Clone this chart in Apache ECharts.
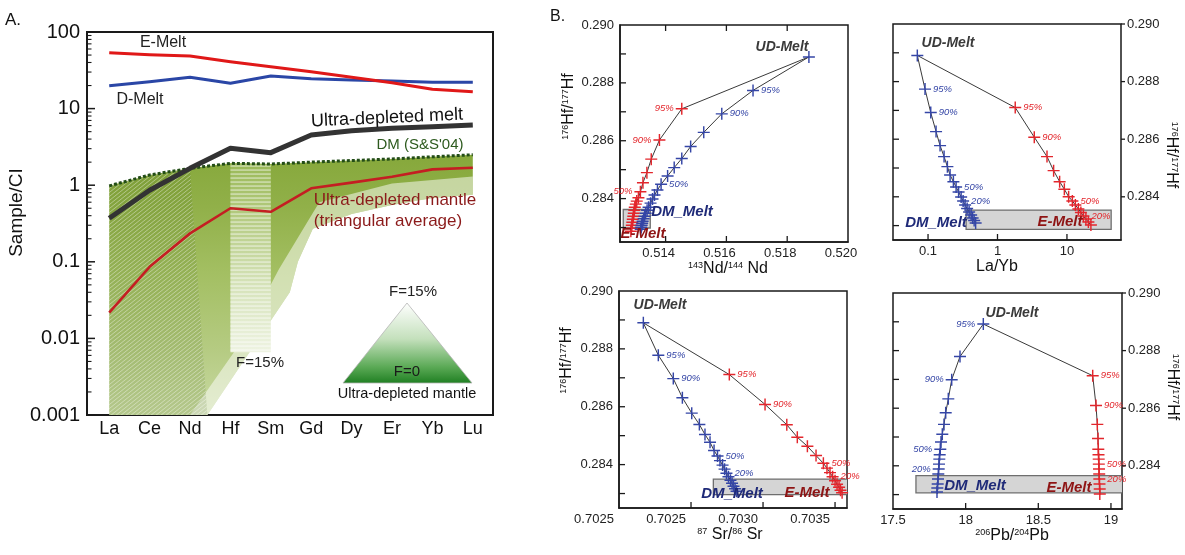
<!DOCTYPE html>
<html><head><meta charset="utf-8">
<script src="https://cdn.jsdelivr.net/npm/echarts@6/dist/echarts.min.js"></script>
<style>html,body{margin:0;padding:0;background:#fff}#c{width:1185px;height:555px}</style>
</head><body><div id="c"></div>
<script>
// ---------------- Panel A data ----------------
const elements = ['La','Ce','Nd','Hf','Sm','Gd','Dy','Er','Yb','Lu'];
const eMeltA   = [53.7, 50.5, 48.6, 40.9, 35.2, 30.3, 25.6, 21.8, 17.9, 16.6];
const dMeltA   = [19.9, 22.4, 25.6, 21.4, 26.7, 24.5, 23.6, 22.9, 22.0, 22.0];
const udMeltA  = [0.37, 0.86, 1.66, 3.03, 2.66, 4.52, 5.15, 5.54, 5.81, 6.1];
const dmA      = [0.98, 1.36, 1.66, 1.93, 1.89, 2.0, 2.1, 2.2, 2.35, 2.5];
const udMantleA= [0.0217, 0.086, 0.235, 0.50, 0.45, 0.91, 1.08, 1.29, 1.61, 1.69];
const fanLowerIdx = [9, 8, 7, 6, 5.04, 4.67, 4.47, 2.43, 0];
const fanLowerVal = [0.75, 0.68, 0.55, 0.42, 0.27, 0.1, 0.04, 0.001, 0.001];
const fanFadeUpperIdx = [9, 7, 5.2, 4.2, 3.2, 2.0];
const fanFadeUpperVal = [1.3, 1.05, 0.6, 0.08, 0.008, 0.001];
const hfSmIdx = [3, 4];
const hfSmBottom = [0.0066, 0.0066];
const yTickValuesA = [0.001, 0.01, 0.1, 1, 10, 100];
const yTickLabelsA = ['0.001','0.01','0.1','1','10','100'];

// ---------------- Panel B data ----------------
const hfTickLabels = ['0.284','0.286','0.288','0.290'];
const hfTickValues = [0.284, 0.286, 0.288, 0.290];
const hfMinorTicks = [0.283, 0.284, 0.285, 0.286, 0.287, 0.288, 0.289];

const ndTickValues = [0.514, 0.516, 0.518, 0.520];
const ndTickLabels = ['0.514','0.516','0.518','0.520'];
const lyTickValues = [0.1, 1, 10];
const lyTickLabels = ['0.1','1','10'];
const srTickValues = [0.7020, 0.7025, 0.7030, 0.7035];
const srTickLabels = ['0.7025','0.7025','0.7030','0.7035'];
const pbTickValues = [17.5, 18, 18.5, 19];
const pbTickLabels = ['17.5','18','18.5','19'];

// Nd vs Hf
const ndBlue = [[0.518714,0.288897],[0.516876,0.287739],[0.515848,0.286929],[0.515255,0.286289],[0.514824,0.285802],[0.514532,0.285384],[0.514283,0.285071],[0.514066,0.284783],[0.513852,0.284494],
 [0.513732,0.284296],[0.513635,0.284122],[0.513570,0.283983],[0.513505,0.283843],[0.513440,0.283704],[0.513391,0.283600],[0.513343,0.283496],[0.513310,0.283391],[0.513278,0.283304],[0.513246,0.283217],[0.513229,0.283148],[0.513213,0.283078],[0.513197,0.283009],[0.513181,0.282939]];
const ndBlueLbl = [[1,'95%'],[2,'90%'],[8,'50%']];
const ndRed = [[0.514532,0.287103],[0.513797,0.286024],[0.513528,0.285364],[0.513385,0.284897],[0.513255,0.284550],[0.513171,0.284237],[0.513106,0.284028],
 [0.513051,0.283913],[0.513019,0.283809],[0.512986,0.283704],[0.512970,0.283600],[0.512954,0.283496],[0.512938,0.283391],[0.512921,0.283287],[0.512905,0.283183],[0.512889,0.283078],[0.512873,0.282974],[0.512857,0.282870]];
const ndRedLbl = [[0,'95%'],[1,'90%'],[5,'50%']];
const ndBox = [0.512607, 0.282984, 0.513495, 0.283624];

// La/Yb vs Hf
const lyBlue = [[0.07008,0.288908],[0.09051,0.287739],[0.10940,0.286925],[0.13043,0.286264],[0.14901,0.285777],[0.17020,0.285395],[0.18992,0.285047],[0.20771,0.284758],[0.23180,0.284525],
 [0.2535,0.284341],[0.2754,0.284167],[0.2995,0.283993],[0.3200,0.283854],[0.3419,0.283715],[0.3653,0.283593],[0.3905,0.283471],[0.4173,0.283367],[0.4386,0.283263],[0.4610,0.283176],[0.4846,0.283089]];
const lyBlueLbl = [[1,'95%'],[2,'90%'],[9,'50%'],[12,'20%']];
const lyRed = [[1.8004,0.287099],[3.385,0.286070],[5.162,0.285395],[6.429,0.284908],[7.848,0.284525],[9.173,0.284261],[10.58,0.284003],
 [11.97,0.283854],[13.22,0.283715],[14.61,0.283576],[15.87,0.283454],[17.25,0.283332],[18.74,0.283228],[20.36,0.283123],[22.13,0.283019]];
const lyRedLbl = [[0,'95%'],[1,'90%'],[7,'50%'],[11,'20%']];
const lyBox = [0.353, 0.28287, 43.3, 0.28354];

// Sr vs Hf
const srBlue = [[0.702169,0.288900],[0.702273,0.287780],[0.702377,0.286972],[0.702440,0.286313],[0.702505,0.285779],[0.702558,0.285387],[0.702597,0.285040],[0.702632,0.284773],[0.702660,0.284485],
 [0.702684,0.284294],[0.702701,0.284138],[0.702719,0.283982],[0.702733,0.283843],[0.702746,0.283704],[0.702760,0.283583],[0.702774,0.283462],[0.702785,0.283358],[0.702795,0.283254],[0.702806,0.283167],[0.702816,0.283080]];
const srBlueLbl = [[1,'95%'],[2,'90%'],[9,'50%'],[13,'20%']];
const srRed = [[0.702766,0.287111],[0.703014,0.286080],[0.703165,0.285376],[0.703238,0.284946],[0.703308,0.284634],[0.703368,0.284312],[0.703419,0.284044],
 [0.703444,0.283878],[0.703465,0.283722],[0.703483,0.283583],[0.703500,0.283444],[0.703514,0.283323],[0.703528,0.283219],[0.703538,0.283115],[0.703549,0.283028]];
const srRedLbl = [[0,'95%'],[1,'90%'],[6,'50%'],[9,'20%']];
const srBox = [0.702655, 0.28296, 0.70359, 0.28350];

// Pb vs Hf
const pbBlue = [[18.1215,0.288921],[17.9611,0.287793],[17.9040,0.286990],[17.8806,0.286324],[17.8627,0.285841],[17.8510,0.285438],[17.8393,0.285093],[17.8304,0.284828],[17.8255,0.284576],
 [17.8214,0.284386],[17.8187,0.284231],[17.8166,0.284059],[17.8145,0.283886],[17.8118,0.283714],[17.8097,0.283541],[17.8076,0.283369],[17.8049,0.283231],[17.8028,0.283093]];
const pbBlueLbl = [[0,'95%'],[2,'90%'],[8,'50%'],[12,'20%']];
const pbRed = [[18.8744,0.287128],[18.8971,0.286093],[18.9061,0.285438],[18.9109,0.284945],[18.9129,0.284576],
 [18.9143,0.284386],[18.9157,0.284231],[18.9164,0.284059],[18.9178,0.283886],[18.9192,0.283714],[18.9199,0.283541],[18.9212,0.283369],[18.9226,0.283197],[18.9233,0.283024]];
const pbRedLbl = [[0,'95%'],[1,'90%'],[7,'50%'],[10,'20%']];
const pbBox = [17.658, 0.28306, 19.08, 0.28366];

// ---------------- styling ----------------
const FF = '"Liberation Sans", Arial, Helvetica, sans-serif';
const CROSS = 'path://M0,4.4H10V5.6H0Z M4.4,0H5.6V10H4.4Z';
const RED = '#e3262c', BLUE = '#3546a6', FRAME = '#1a1a1a';
const G = echarts.graphic;

// decorative hatch textures for the residue fan
function makeHatch(w, h, draw) {
  const c = document.createElement('canvas'); c.width = w; c.height = h;
  const g = c.getContext('2d'); draw(g, w, h); return {image: c, repeat: 'repeat'};
}
const hatchDiag = makeHatch(10, 8, (g, w, h) => {
  g.fillStyle = 'rgba(60,95,10,0.14)'; g.fillRect(0, 0, w, h);
  g.strokeStyle = 'rgba(255,255,255,0.4)'; g.lineWidth = 1;
  g.beginPath();
  [-h, -h / 2, 0, h / 2, h].forEach(c => { g.moveTo(-2, h + c + 2 * h / w); g.lineTo(w + 2, c - 2 * h / w); });
  g.stroke();
});
const hatchHoriz = makeHatch(4, 4, (g, w, h) => {
  g.fillStyle = 'rgba(255,255,255,0.65)'; g.fillRect(0, 1.5, w, 1.1);
});

const chart = echarts.init(document.getElementById('c'), null, {renderer: 'canvas'});

const gridsB = [
  {left: 620, top: 25, width: 228, height: 217},
  {left: 893, top: 24, width: 228, height: 216},
  {left: 619, top: 291, width: 228, height: 217},
  {left: 893, top: 293, width: 229, height: 216}
];
const grid = [{left: 87, top: 32, width: 406, height: 383, show: true, borderColor: FRAME, borderWidth: 2, outerBoundsMode: 'none', containLabel: false}]
  .concat(gridsB.map(g => Object.assign({show: true, borderColor: FRAME, borderWidth: 1.5, outerBoundsMode: 'none', containLabel: false}, g)));

const minorA = [];
for (let d = -3; d < 2; d++) for (let k = 2; k <= 9; k++) minorA.push(+(k * Math.pow(10, d)).toPrecision(3));

const supRich = {s: {fontSize: 9, verticalAlign: 'top', fontFamily: FF, color: '#111', lineHeight: 11}, m: {fontSize: 16, fontFamily: FF, color: '#111'}};
function nameStyle(pad) { return {fontSize: 16, fontFamily: FF, color: '#111', rich: supRich, padding: pad || 0}; }
const noSplit = {show: false};
function lblFmt(vals, labs) { return v => { let best = 0, bd = Infinity; vals.forEach((t, i) => { const d = Math.abs(t - v); if (d < bd) { bd = d; best = i; } }); return labs[best]; }; }

// axis extents [xMin, xMax, yMin, yMax]
const extA  = [-0.55, 9.5, 0.001, 100];
const extNd = [0.5125, 0.5200, 0.2825, 0.290];
const extLy = [0.0313, 60, 0.2825, 0.290];
const extSr = [0.7020, 0.703583, 0.2825, 0.290];
const extPb = [17.5, 19.076, 0.2825, 0.290];

function xAx(gi, type, ext, opts) {
  return Object.assign({gridIndex: gi, type: type, min: ext[0], max: ext[1], position: 'bottom', splitLine: noSplit, minorTick: {show: false},
    axisLine: {show: true, onZero: false, lineStyle: {color: FRAME, width: gi === 0 ? 2 : 1.5}}, axisTick: {show: false}}, opts);
}
const xAxis = [
  xAx(0, 'value', extA, {axisLabel: {customValues: [0,1,2,3,4,5,6,7,8,9], formatter: v => elements[Math.round(v)], fontSize: 18, fontFamily: FF, color: '#111', margin: 5}}),
  xAx(1, 'value', extNd, {axisLabel: {customValues: ndTickValues, formatter: lblFmt(ndTickValues, ndTickLabels), fontSize: 13, fontFamily: FF, color: '#222', margin: 5, padding: [0, 14, 0, 0]},
    name: '{s|143}{m|Nd/}{s|144}{m| Nd}', nameLocation: 'middle', nameGap: 16, nameTextStyle: nameStyle([0, 12, 0, 0])}),
  xAx(2, 'log', extLy, {axisLabel: {customValues: lyTickValues, formatter: lblFmt(lyTickValues, lyTickLabels), fontSize: 13, fontFamily: FF, color: '#222', margin: 5},
    name: '{m|La/Yb}', nameLocation: 'middle', nameGap: 18, nameTextStyle: nameStyle([0, 20, 0, 0])}),
  xAx(3, 'value', extSr, {axisLabel: {customValues: srTickValues, formatter: lblFmt(srTickValues, srTickLabels), fontSize: 13, fontFamily: FF, color: '#222', margin: 5, padding: [0, 50, 0, 0]},
    name: '{s|87}{m| Sr/}{s|86}{m| Sr}', nameLocation: 'middle', nameGap: 17, nameTextStyle: nameStyle([0, 6, 0, 0])}),
  xAx(4, 'value', extPb, {axisLabel: {customValues: pbTickValues, formatter: lblFmt(pbTickValues, pbTickLabels), fontSize: 13, fontFamily: FF, color: '#222', margin: 5},
    name: '{s|206}{m|Pb/}{s|204}{m|Pb}', nameLocation: 'middle', nameGap: 16, nameTextStyle: nameStyle([0, 0, 0, 9])})
];

function hfAxis(gi, pos, nameGap, pad) {
  return {gridIndex: gi, type: 'value', min: 0.2825, max: 0.290, position: pos, splitLine: noSplit,
    axisLine: {show: pos === 'left', onZero: false, lineStyle: {color: FRAME, width: 1.5}}, axisTick: {show: false},
    axisLabel: {customValues: hfTickValues, formatter: lblFmt(hfTickValues, hfTickLabels), fontSize: 13, fontFamily: FF, color: '#222', margin: 6},
    name: '{s|176}{m|Hf/}{s|177}{m|Hf}', nameLocation: 'middle', nameGap: nameGap, nameRotate: pos === 'left' ? 90 : -90,
    nameTextStyle: nameStyle(pad)};
}

const yAxis = [
  {gridIndex: 0, type: 'log', logBase: 10, min: 0.001, max: 100, position: 'left', splitLine: noSplit, minorTick: {show: false},
   axisLine: {show: true, onZero: false, lineStyle: {color: FRAME, width: 2}}, axisTick: {show: false},
   axisLabel: {customValues: yTickValuesA, formatter: v => yTickLabelsA[Math.round(Math.log10(v)) + 3], fontSize: 20, fontFamily: FF, color: '#111', margin: 7},
   name: 'Sample/CI', nameLocation: 'middle', nameGap: 50, nameRotate: 90, nameTextStyle: {fontSize: 19, fontFamily: FF, color: '#111', padding: [0, 0, 0, 22]}},
  hfAxis(1, 'left', 43, [0, 0, 0, 54]),
  hfAxis(2, 'right', 40, [0, 0, 0, 46]),
  hfAxis(3, 'left', 44, [0, 0, 0, 78]),
  hfAxis(4, 'right', 40, [0, 28, 0, 0])
];

// ---------- tick marks (drawn through the axes' own scales) ----------
function tickSeries(xi, yi, ext, specs) {
  return {type: 'custom', xAxisIndex: xi, yAxisIndex: yi, z: 20, silent: true, clip: false,
    data: [[ext[0], ext[2]]],
    renderItem: (p, api) => {
      const children = [];
      specs.forEach(s => s.values.forEach(v => {
        let a, dx = 0, dy = 0;
        if (s.side === 'left')   { a = api.coord([ext[0], v]); dx = s.out ? -s.len : s.len; }
        if (s.side === 'right')  { a = api.coord([ext[1], v]); dx = s.out ? s.len : -s.len; }
        if (s.side === 'bottom') { a = api.coord([v, ext[2]]); dy = s.out ? s.len : -s.len; }
        if (s.side === 'top')    { a = api.coord([v, ext[3]]); dy = s.out ? -s.len : s.len; }
        children.push({type: 'line', shape: {x1: a[0], y1: a[1], x2: a[0] + dx, y2: a[1] + dy},
          style: {stroke: FRAME, lineWidth: s.w || 1.3}});
      }));
      return {type: 'group', children: children};
    }};
}

// ---------- Panel A series ----------
const fanTop = elements.map((e, i) => [i, dmA[i]]);
const fanBottom = fanLowerIdx.map((x, i) => [x, fanLowerVal[i]]);
const fanFade = fanLowerIdx.slice(0, 8).map((x, i) => [x, fanLowerVal[i]]).reverse()
  .concat(fanFadeUpperIdx.map((x, i) => [x, fanFadeUpperVal[i]]));
function polySeries(pointsFn, styleFn, z) {
  return {type: 'custom', xAxisIndex: 0, yAxisIndex: 0, z: z || 1, silent: true, clip: true,
    data: [[1, 1]],
    renderItem: (p, api) => ({type: 'polygon', shape: {points: pointsFn().map(q => api.coord(q))}, style: styleFn()})};
}
const series = [];
series.push(polySeries(() => fanTop.concat(fanBottom), () => ({
  fill: new G.LinearGradient(0, 0, 0, 1, [
    {offset: 0, color: '#86a83b'}, {offset: 0.2, color: '#91b049'}, {offset: 0.45, color: '#a3bf62'},
    {offset: 0.75, color: '#b5cb82'}, {offset: 1, color: '#c9daa3'}]), stroke: null})));
series.push(polySeries(() => fanFade, () => ({fill: 'rgba(255,255,255,0.5)', stroke: null})));
// hatching over La–Nd part of the fan
series.push(polySeries(() => fanTop.slice(0, 3).concat([[2.43, 0.001], [0, 0.001]]), () => ({fill: hatchDiag, stroke: null}), 2));
// Hf–Sm band with horizontal hatching
const bandPts = () => [[hfSmIdx[0], dmA[3]], [hfSmIdx[1], dmA[4]], [hfSmIdx[1], hfSmBottom[1]], [hfSmIdx[0], hfSmBottom[0]]];
series.push(polySeries(bandPts, () => ({
  fill: new G.LinearGradient(0, 0, 0, 1, [
    {offset: 0, color: '#9ab957'}, {offset: 0.3, color: '#b6cc84'}, {offset: 0.65, color: '#d6e3ba'}, {offset: 1, color: '#eef3e2'}]), stroke: null})));
series.push(polySeries(bandPts, () => ({fill: hatchHoriz, stroke: null}), 2));

function lineA(vals, color, width, type, z) {
  return {type: 'line', xAxisIndex: 0, yAxisIndex: 0, z: z, symbol: 'none', silent: true, animation: false,
    data: vals.map((v, i) => [i, v]), lineStyle: {color: color, width: width, type: type || 'solid', cap: 'butt', join: 'round'}};
}
series.push(lineA(dmA, '#234d17', 3, [3, 2], 3));
series.push(lineA(udMantleA, '#c41e22', 2.6, 'solid', 4));
series.push(lineA(udMeltA, '#333333', 5, 'solid', 5));
series.push(lineA(dMeltA, '#2a46a6', 3, 'solid', 5));
series.push(lineA(eMeltA, '#e01818', 3, 'solid', 6));
series.push(tickSeries(0, 0, extA, [
  {side: 'left', values: yTickValuesA, len: 8, w: 1.5},
  {side: 'left', values: minorA, len: 4.5, w: 1.1}]));

// ---------- Panel B series ----------
function boxSeries(xi, yi, box) {
  return {type: 'custom', xAxisIndex: xi, yAxisIndex: yi, z: 1, silent: true, clip: true,
    data: [box],
    renderItem: (p, api) => {
      const a = api.coord([api.value(0), api.value(1)]);
      const b = api.coord([api.value(2), api.value(3)]);
      return {type: 'rect', shape: {x: Math.min(a[0], b[0]), y: Math.min(a[1], b[1]), width: Math.abs(b[0] - a[0]), height: Math.abs(b[1] - a[1])},
        style: {fill: '#d5d5d5', stroke: '#6e6e6e', lineWidth: 1.3}};
    }};
}
function mixSeries(xi, yi, pts, lbls, color, lblPos, ud) {
  const lmap = {}; lbls.forEach(l => { lmap[l[0]] = l[1]; });
  const data = pts.map((p, i) => {
    const it = {value: p};
    if (lmap[i]) it.label = {show: true, formatter: lmap[i], position: lblPos, distance: 2,
      fontSize: 9.5, fontStyle: 'italic', fontFamily: FF, color: color};
    return it;
  });
  if (ud) data.unshift({value: ud, symbol: 'none'});
  return {type: 'line', xAxisIndex: xi, yAxisIndex: yi, z: 3, silent: true, animation: false,
    symbol: CROSS, symbolSize: 12, showAllSymbol: true,
    itemStyle: {color: color}, lineStyle: {color: '#3a3a3a', width: 1}, data: data};
}
series.push(boxSeries(1, 1, ndBox));
series.push(mixSeries(1, 1, ndRed, ndRedLbl, RED, 'left', ndBlue[0]));
series.push(mixSeries(1, 1, ndBlue, ndBlueLbl, BLUE, 'right'));
series.push(tickSeries(1, 1, extNd, [
  {side: 'left', values: hfMinorTicks, len: 6},
  {side: 'bottom', values: [0.514, 0.516, 0.518], len: 6},
  {side: 'top', values: [0.514, 0.516, 0.518], len: 6}]));

series.push(boxSeries(2, 2, lyBox));
series.push(mixSeries(2, 2, lyRed, lyRedLbl, RED, 'right', lyBlue[0]));
series.push(mixSeries(2, 2, lyBlue, lyBlueLbl, BLUE, 'right'));
series.push(tickSeries(2, 2, extLy, [
  {side: 'left', values: hfMinorTicks, len: 6},
  {side: 'right', values: hfTickValues, len: 4, out: true},
  {side: 'bottom', values: lyTickValues, len: 6}]));

series.push(boxSeries(3, 3, srBox));
series.push(mixSeries(3, 3, srRed, srRedLbl, RED, 'right', srBlue[0]));
series.push(mixSeries(3, 3, srBlue, srBlueLbl, BLUE, 'right'));
series.push(tickSeries(3, 3, extSr, [
  {side: 'left', values: hfMinorTicks, len: 6},
  {side: 'bottom', values: [0.7025, 0.7030, 0.7035], len: 6}]));

series.push(boxSeries(4, 4, pbBox));
series.push(mixSeries(4, 4, pbRed, pbRedLbl, RED, 'right', pbBlue[0]));
series.push(mixSeries(4, 4, pbBlue, pbBlueLbl, BLUE, 'left'));
series.push(tickSeries(4, 4, extPb, [
  {side: 'left', values: hfMinorTicks, len: 6},
  {side: 'right', values: hfTickValues, len: 4, out: true},
  {side: 'bottom', values: [18, 18.5, 19], len: 6}]));

// ---------- annotations ----------
function T(x, y, text, size, color, opts) {
  opts = opts || {};
  return {type: 'text', x: x, y: y, rotation: opts.rot || 0, z: 50, silent: true,
    style: {text: text, fill: color || '#111', fontSize: size, fontFamily: FF,
      fontStyle: opts.italic ? 'italic' : 'normal', fontWeight: opts.bold ? 'bold' : 'normal',
      align: opts.align || 'center', verticalAlign: 'middle', textAlign: opts.align || 'center', textVerticalAlign: 'middle'}};
}
const graphic = [
  T(5, 20, 'A.', 17, '#111', {align: 'left'}),
  T(550, 17, 'B.', 16, '#111', {align: 'left'}),
  T(163, 43, 'E-Melt', 16, '#222'),
  T(140, 100, 'D-Melt', 16, '#222'),
  T(387, 118, 'Ultra-depleted melt', 18, '#111', {rot: 0.045}),
  T(420, 145, "DM (S&S'04)", 15, '#2d5a1e'),
  T(395, 200, 'Ultra-depleted mantle', 17, '#8b1a1a'),
  T(388, 221, '(triangular average)', 17, '#8b1a1a'),
  T(260, 363, 'F=15%', 15, '#222'),
  {type: 'polygon', z: 40, silent: true, shape: {points: [[407, 303], [343, 383], [472, 383]]},
   style: {fill: new G.LinearGradient(0, 0, 0, 1, [{offset: 0, color: '#ffffff'}, {offset: 0.45, color: '#c4e0bc'}, {offset: 0.8, color: '#5aa955'}, {offset: 1, color: '#1f7f22'}]),
     stroke: '#b5b5b5', lineWidth: 0.8}},
  T(413, 292, 'F=15%', 15, '#222'),
  T(407, 372, 'F=0', 15, '#1a1a1a'),
  T(407, 394, 'Ultra-depleted mantle', 14.5, '#111'),
  T(782, 47, 'UD-Melt', 14, '#3a3a3a', {bold: true, italic: true}),
  T(682, 212, 'DM_Melt', 15, '#1f2a78', {bold: true, italic: true}),
  T(643, 234, 'E-Melt', 15, '#8e1414', {bold: true, italic: true}),
  T(948, 43, 'UD-Melt', 14, '#3a3a3a', {bold: true, italic: true}),
  T(936, 223, 'DM_Melt', 15, '#1f2a78', {bold: true, italic: true}),
  T(1060, 222, 'E-Melt', 15, '#8e1414', {bold: true, italic: true}),
  T(660, 305, 'UD-Melt', 14, '#3a3a3a', {bold: true, italic: true}),
  T(732, 494, 'DM_Melt', 15, '#1f2a78', {bold: true, italic: true}),
  T(807, 493, 'E-Melt', 15, '#8e1414', {bold: true, italic: true}),
  T(1012, 313, 'UD-Melt', 14, '#3a3a3a', {bold: true, italic: true}),
  T(975, 486, 'DM_Melt', 15, '#1f2a78', {bold: true, italic: true}),
  T(1069, 488, 'E-Melt', 15, '#8e1414', {bold: true, italic: true})
];

chart.setOption({
  animation: false,
  backgroundColor: '#ffffff',
  grid: grid,
  xAxis: xAxis,
  yAxis: yAxis,
  series: series,
  graphic: graphic
});
</script></body></html>
